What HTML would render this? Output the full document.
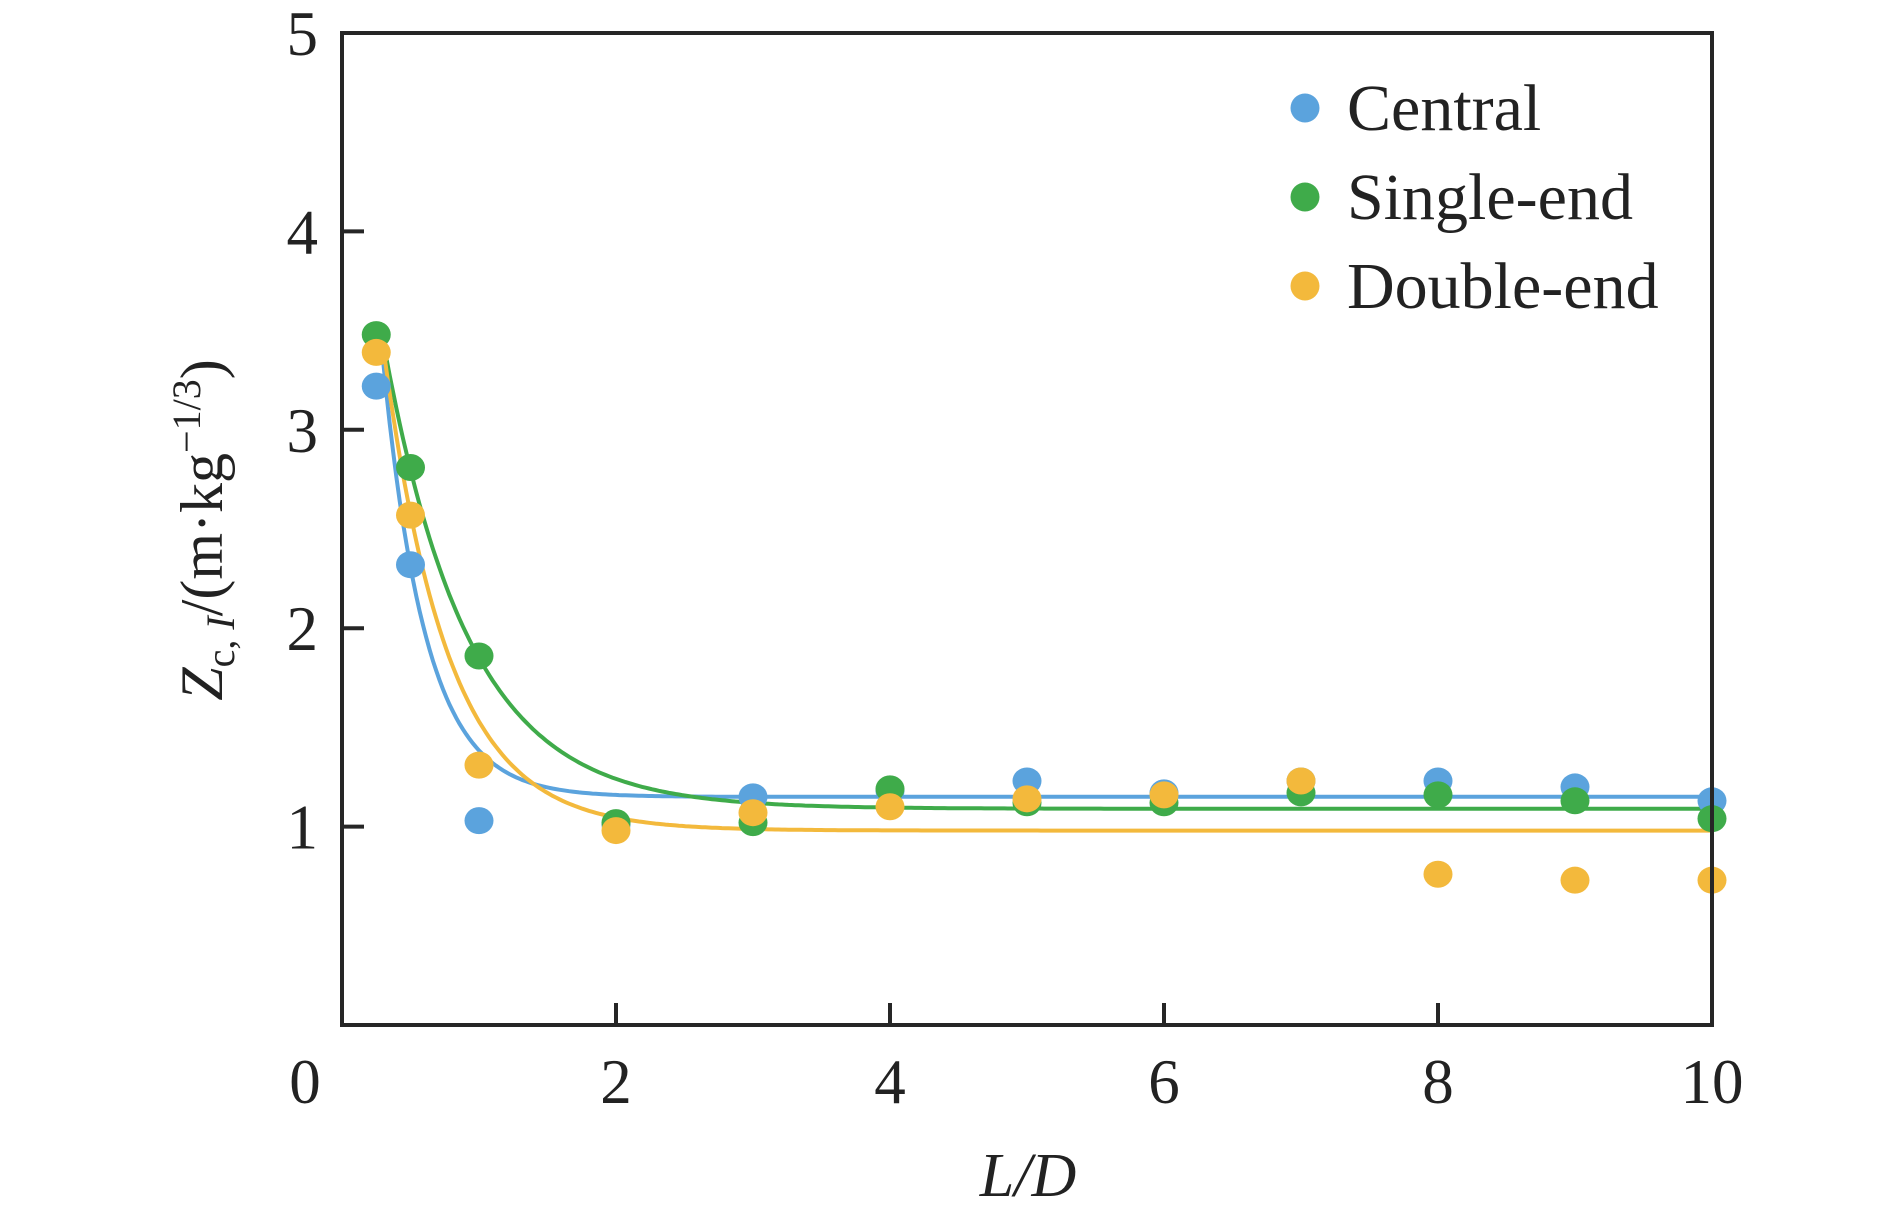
<!DOCTYPE html>
<html><head><meta charset="utf-8"><style>
body{margin:0;background:#fff}
svg{display:block}
text{font-family:"Liberation Serif",serif;fill:#222}
</style></head><body>
<svg id="chart" width="1890" height="1218" viewBox="0 0 1890 1218">
<g id="marks"></g>
<rect x="342" y="33" width="1370" height="992" fill="none" stroke="#262626" stroke-width="4"/>
<g id="axes"></g>
<g>
<circle cx="1305" cy="108" r="14.5" fill="#5ba3dd"/>
<text x="1347" y="130" font-size="66">Central</text>
<circle cx="1305" cy="197" r="14.5" fill="#3fab4a"/>
<text x="1347" y="219" font-size="66">Single-end</text>
<circle cx="1305" cy="286" r="14.5" fill="#f3b93c"/>
<text x="1347" y="308" font-size="66">Double-end</text>
</g>
<text x="1028" y="1196" font-size="62" font-style="italic" text-anchor="middle">L/D</text>
<text transform="translate(222,530) rotate(-90)" font-size="60" text-anchor="middle"><tspan font-style="italic">Z</tspan><tspan font-size="40" dy="12">c, </tspan><tspan font-size="40" font-style="italic">I</tspan><tspan dy="-12">/(m·kg</tspan><tspan font-size="40" dy="-22">−1/3</tspan><tspan dy="22">)</tspan></text>
</svg>
<script>
const xValues=[0.25,0.5,1,2,3,4,5,6,7,8,9,10];
const centralValues=[3.22,2.32,1.03,1.01,1.15,1.18,1.23,1.17,1.23,1.23,1.20,1.13];
const singleValues=[3.48,2.81,1.86,1.02,1.02,1.19,1.12,1.12,1.17,1.16,1.13,1.04];
const doubleValues=[3.39,2.57,1.31,0.98,1.07,1.10,1.14,1.16,1.23,0.76,0.73,0.73];
const xTicks=[2,4,6,8,10];
const yTicks=[1,2,3,4,5];
// fit params: a + b*exp(-k x)
const centralFit=[1.15,5.74,3.2];
const singleFit=[1.09,3.84,1.62];
const doubleFit=[0.98,4.63,2.13];
const X0=342,X1=1712,Y0=1025,Y1=33;
const sx=v=>X0+(v-0)/(10-0)*(X1-X0);
const sy=v=>Y0-(v-0)/(5-0)*(Y0-Y1);
const NS="http://www.w3.org/2000/svg";
const marks=document.getElementById('marks'),axes=document.getElementById('axes');
function mk(t,p,a){const e=document.createElementNS(NS,t);for(const k in a)e.setAttribute(k,a[k]);p.appendChild(e);return e;}
const series=[["central",centralValues,centralFit,"#5ba3dd"],["single-end",singleValues,singleFit,"#3fab4a"],["double-end",doubleValues,doubleFit,"#f3b93c"]];
series.forEach(s=>{
  let d="";
  for(let i=0;i<=400;i++){const x=0.3+i*(10-0.3)/400;const y=s[2][0]+s[2][1]*Math.exp(-s[2][2]*x);d+=(i?"L":"M")+sx(x).toFixed(1)+","+sy(y).toFixed(1);}
  const p=mk('path',marks,{d:d,fill:"none",stroke:s[3],"stroke-width":4});
  
  
});
series.forEach(s=>{
  s[1].forEach((v,i)=>{
    const c=mk('ellipse',marks,{cx:sx(xValues[i]),cy:sy(v),rx:14.5,ry:13.5,fill:s[3]});
    
    
  });
});
xTicks.forEach(t=>{
  if(t<10){const l=mk('line',axes,{x1:sx(t),x2:sx(t),y1:Y0,y2:Y0-22,stroke:"#262626","stroke-width":4});
  
  }
  const tx=mk('text',axes,{x:sx(t),y:1103,"font-size":63,"text-anchor":"middle"});tx.textContent=t;
  
  
});
yTicks.forEach(t=>{
  if(t<5){const l=mk('line',axes,{x1:X0,x2:X0+22,y1:sy(t),y2:sy(t),stroke:"#262626","stroke-width":4});
  
  }
  const tx=mk('text',axes,{x:318,y:sy(t)+22,"font-size":63,"text-anchor":"end"});tx.textContent=t;
  
  
});
const z=mk('text',axes,{x:305,y:1103,"font-size":63,"text-anchor":"middle"});z.textContent="0";


</script>
</body></html>
